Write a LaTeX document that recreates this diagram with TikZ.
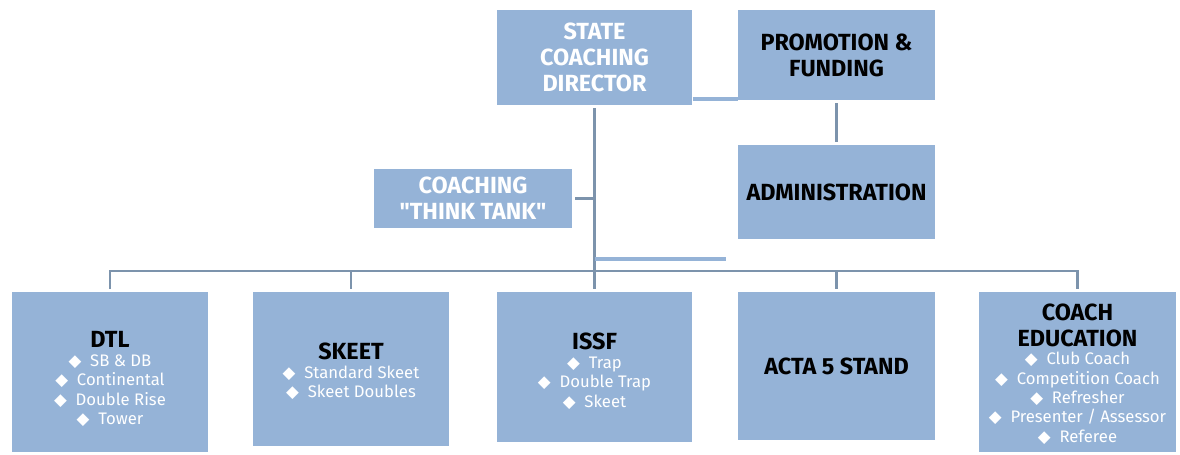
\documentclass[tikz,border=0pt]{standalone}
\usepackage{fontspec}
\setmainfont{Fira Sans}
\newfontfamily\symfont{DejaVu Sans}
\usetikzlibrary{positioning}

\definecolor{boxblue}{RGB}{149,179,215}
\definecolor{lineblue}{RGB}{124,147,172}

\newcommand{\itm}{{\symfont\fontsize{9.5}{8}\selectfont ◆}\hspace{5pt}}
\newcommand{\pad}[1]{\rule{0pt}{#1}}
\newcommand{\sublist}[1]{{\fontsize{9.5}{11}\selectfont\mdseries\color{white}%
  \begin{tabular}[t]{@{}c@{}}#1\end{tabular}}}

\tikzset{
  unit/.style={fill=boxblue, draw=none, align=center, inner sep=2pt,
    minimum width=3.92cm, font=\fontsize{13.3}{14.7}\selectfont\bfseries},
  lead/.style={unit, text=white},
  link/.style={lineblue, line width=1.6pt},
  glow/.style={boxblue, line width=2.3pt},
}

\begin{document}
\begin{tikzpicture}[x=0.02cm, y=-0.02cm]
        \useasboundingbox (0,0) rectangle (1180,454);

        % top of the chart
        \node (SCD) [lead, minimum height=1.9cm] at (594.5,57.5) {STATE\\COACHING\\DIRECTOR};
        \node (PF) [unit, minimum width=3.94cm, minimum height=1.8cm] at (836.5,55) {PROMOTION \&\\FUNDING};
        \node (ADM) [unit, minimum width=3.94cm, minimum height=1.88cm] at (836.5,192) {ADMINISTRATION};
        \node (TT) [lead, minimum width=3.96cm, minimum height=1.18cm] at (473,198.5)
          {COACHING\\\textquotedbl THINK TANK\textquotedbl};

        % disciplines
        \node (DTL) [unit, anchor=north, minimum height=3.2cm] at (110,292)
          {\pad{19pt}DTL\\[-4pt] \sublist{\itm SB \& DB\\ \itm Continental\\ \itm Double Rise\\ \itm Tower}};
        \node (SKT) [unit, anchor=north, minimum height=3.08cm] at (351,292)
          {\pad{13.5pt}SKEET\\[-4pt] \sublist{\itm Standard Skeet\\ \itm Skeet Doubles}};
        \node (ISSF) [unit, anchor=north, minimum height=3cm] at (594.5,292)
          {\pad{16pt}ISSF\\[-4pt] \sublist{\itm Trap\\ \itm Double Trap\\ \itm Skeet}};
        \node (ACTA) [unit, anchor=north, minimum width=3.94cm, minimum height=2.96cm] at (836.5,292)
          {ACTA 5 STAND};
        \node (CE) [unit, anchor=north, minimum width=3.94cm, minimum height=3.2cm] at (1077.5,292)
          {\pad{13.5pt}COACH\\EDUCATION\\[-4pt] \sublist{\itm Club Coach\\ \itm Competition Coach\\ \itm Refresher\\ \itm Presenter / Assessor\\ \itm Referee}};

        \coordinate (bus) at (110,271);
        \coordinate (stub) at (726,259);

        \draw[glow] (SCD.east |- 0,99) -- (PF.west |- 0,99);
        \draw[link, shorten <=0.06cm, shorten >=0.06cm] (PF) -- (ADM);
        \draw[link, line width=2pt] ([yshift=-0.06cm]SCD.south) -- ([yshift=0.06cm]ISSF.north);
        \draw[link] ([xshift=0.06cm]TT.east) -- (TT.east -| SCD.south);
        \draw[glow] (SCD.south |- stub) -- (stub);

        \draw[link] ([yshift=0.06cm]DTL.north) -- (DTL.north |- bus) -- (CE.north |- bus) -- ([yshift=0.06cm]CE.north);
        \draw[link] (SKT.north |- bus) -- ([yshift=0.06cm]SKT.north);
        \draw[link] (ACTA.north |- bus) -- ([yshift=0.06cm]ACTA.north);

\end{tikzpicture}
\end{document}
